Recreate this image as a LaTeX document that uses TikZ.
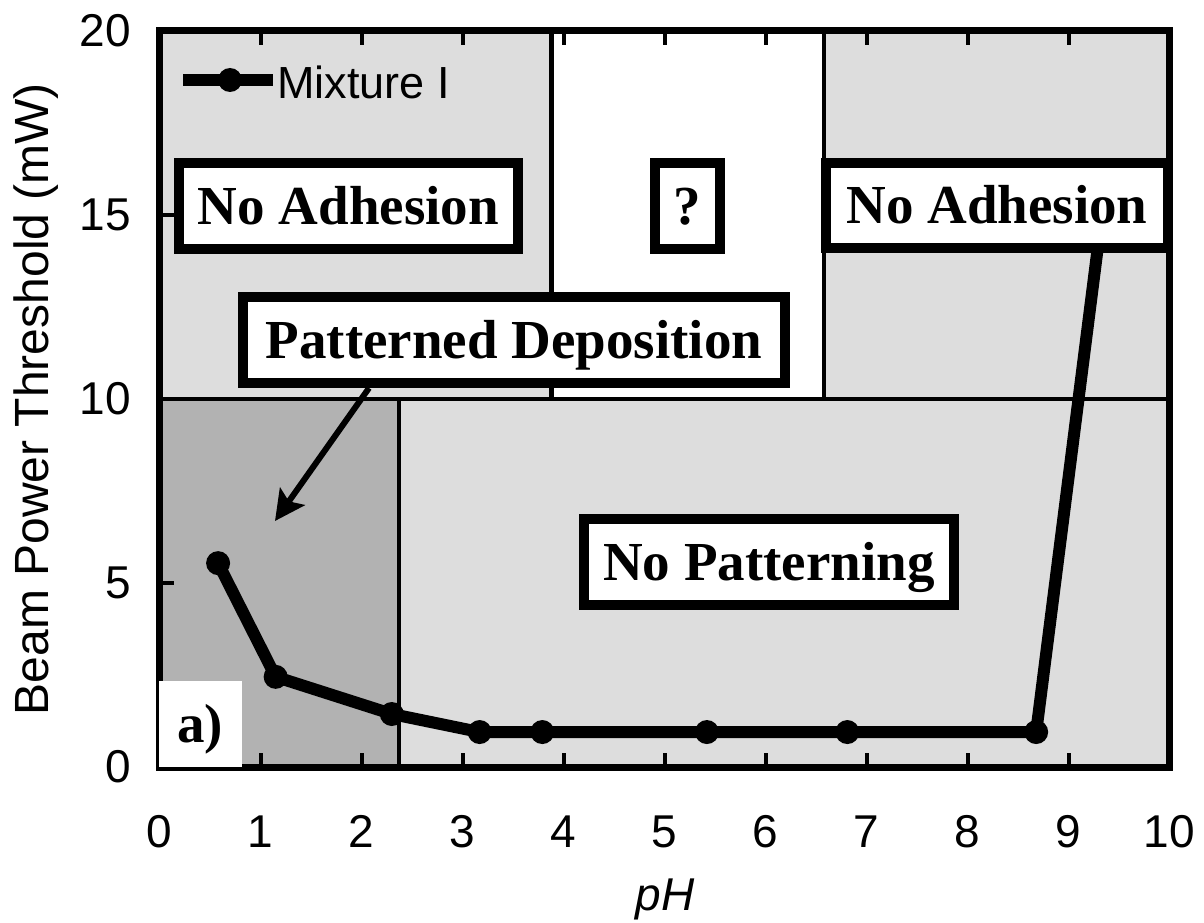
\documentclass[tikz,border=0pt]{standalone}
\usepackage{fontspec}
\setmainfont{Liberation Serif}
\newfontfamily\arialf{Liberation Sans}
\usetikzlibrary{arrows.meta,calc}
\definecolor{lightg}{RGB}{221,221,221}
\definecolor{darkg}{RGB}{178,178,178}
\begin{document}
\begin{tikzpicture}[x=1pt,y=-1pt,
  region/.style={draw=black,line width=4.5pt},
  tickmark/.style={line width=4pt},
  frameline/.style={line width=7pt},
  dataline/.style={line width=12pt,line join=round},
  dot/.style={circle,fill=black,inner sep=0pt,minimum size=24pt},
  labelbox/.style={draw=black,fill=white,line width=10pt,inner sep=0pt,
    text height=36.4pt,text depth=0pt,
    font=\fontsize{55}{60}\selectfont\bfseries},
  ticklbl/.style={inner sep=0pt,font=\arialf\fontsize{46}{50}\selectfont},
  axlbl/.style={inner sep=0pt,font=\arialf\fontsize{48}{52}\selectfont},
  pointer/.style={line width=6pt,-{Stealth[length=30pt,width=30pt,inset=6pt]}}]
\fill[white] (0,0) rectangle (1204,923);
\useasboundingbox (0,0) rectangle (1204,923);

\begin{scope}[shift={(159.5pt,-767pt)},x=101pt,y=36.8pt]
  % regions
  \filldraw[region,fill=lightg] (0,10) rectangle (3.88,20);
  \filldraw[region,fill=white] (3.88,10) rectangle (6.58,20);
  \filldraw[region,fill=lightg] (6.58,10) rectangle (10,20);
  \filldraw[region,fill=darkg] (0,0) rectangle (2.37,10);
  \filldraw[region,fill=lightg] (2.37,0) rectangle (10,10);
  % frame and ticks
  \draw[frameline] (0,0) rectangle (10,20);
  \foreach \i in {1,...,9} {
    \draw[tickmark] (\i,0) -- ++(0pt,14pt);
    \draw[tickmark] (\i,20) -- ++(0pt,-14pt);
  }
  \foreach \j in {5,15} {
    \draw[tickmark] (0,\j) -- ++(14pt,0pt);
  }
  % data
  \coordinate (p1) at (0.58,5.54);
  \coordinate (p2) at (1.15,2.45);
  \coordinate (p3) at (2.30,1.44);
  \coordinate (p4) at (3.17,0.95);
  \coordinate (p5) at (3.79,0.95);
  \coordinate (p6) at (5.42,0.95);
  \coordinate (p7) at (6.81,0.95);
  \coordinate (p8) at (8.68,0.95);
  \coordinate (p9) at (9.34,15.2);
  \draw[dataline] (p1) -- (p2) -- (p3) -- (p4) -- (p5) -- (p6) -- (p7) -- (p8) -- (p9);
  \foreach \k in {1,...,8} { \node[dot] (d\k) at (p\k) {}; }
\end{scope}

% label boxes
\node[labelbox,minimum width=339pt,minimum height=86pt] (na1) at (348.5,206) {No Adhesion};
\node[labelbox,minimum width=65pt,minimum height=86pt] (qm) at (687.5,206) {?};
\node[labelbox,minimum width=342pt,minimum height=85pt] (na2) at (997,205.5) {No Adhesion};
\node[labelbox,minimum width=542pt,minimum height=86pt] (pd) at (514,340) {Patterned Deposition};
\node[labelbox,minimum width=370pt,minimum height=86pt] (np) at (769,562) {No Patterning};

% arrow
\coordinate (tip) at (275,521);
\draw[pointer] ([xshift=-145pt]pd.south) -- (tip);

% a) label
\node[fill=white,inner sep=0pt,minimum width=83.5pt,minimum height=86pt,
  text height=36pt,text depth=0pt,font=\fontsize{55}{60}\selectfont\bfseries]
  (alab) at (200.25,724) {a)};

% legend
\coordinate (legA) at (183,80);
\coordinate (legB) at (273,80);
\draw[line width=12pt] (legA) -- (legB);
\node[dot] (legdot) at (230,80) {};
\node[anchor=base west,inner sep=0pt,font=\arialf\fontsize{45}{50}\selectfont] (legtxt) at (277,99) {Mixture I};

% tick labels
\foreach \v in {0,5,10,15,20} {
  \node[ticklbl,anchor=east] (yl\v) at (131,{767-36.8*\v}) {\v};
}
\foreach \v in {0,...,10} {
  \node[ticklbl] (xl\v) at ({159.5+101*\v},831.5) {\v};
}
% axis titles
\node[axlbl,rotate=90,anchor=base] (ytitle) at (48,399) {Beam Power Threshold (mW)};
\node[axlbl,anchor=base,font=\arialf\itshape\fontsize{46}{50}\selectfont] (xtitle) at (665,910) {pH};
\end{tikzpicture}
\end{document}
